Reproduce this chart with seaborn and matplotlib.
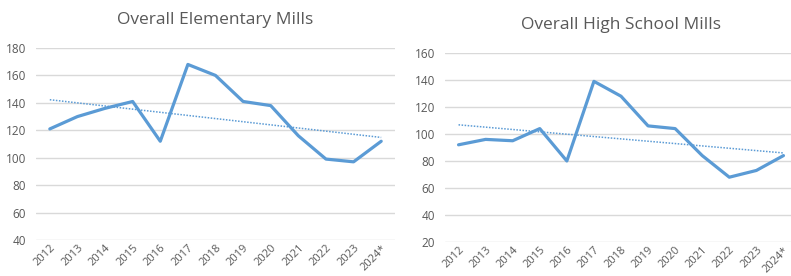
import numpy as np
import pandas as pd
import matplotlib
matplotlib.use('Agg')
import matplotlib.pyplot as plt
import seaborn as sns

# data
years = ['2012', '2013', '2014', '2015', '2016', '2017', '2018',
         '2019', '2020', '2021', '2022', '2023', '2024*']
elementary = [121, 130, 136, 141, 112, 168, 160, 141, 138, 116, 99, 97, 112]
high_school = [92, 96, 95, 104, 80, 139, 128, 106, 104, 84, 68, 73, 84]

sns.set_style('white')
plt.rcParams['font.family'] = ['Open Sans', 'DejaVu Sans']

line_color = '#5B9BD5'
text_color = '#595959'
grid_color = '#D9D9D9'

fig = plt.figure(figsize=(7.91, 2.76), dpi=100)
W, H = 791, 276


def px_axes(x0, y0, x1, y1):
    # axes rect from pixel box (top-left origin)
    return fig.add_axes([x0 / W, 1 - y1 / H, (x1 - x0) / W, (y1 - y0) / H])


def draw(ax, values, title, ylim, yticks):
    df = pd.DataFrame({'pos': np.arange(len(years)), 'value': values})
    # dotted linear trend line
    sns.regplot(data=df, x='pos', y='value', ax=ax, scatter=False, ci=None,
                truncate=True, color=line_color,
                line_kws={'linestyle': (0, (1, 1)), 'linewidth': 1.1})
    sns.lineplot(data=df, x='pos', y='value', ax=ax, color=line_color,
                 linewidth=2.3, sort=False)
    ax.set_xlim(-0.5, len(years) - 0.5)
    ax.set_ylim(*ylim)
    ax.set_yticks(yticks)
    ax.set_xticks(np.arange(len(years)))
    ax.set_xticklabels(years, rotation=45, ha='right', rotation_mode='anchor')
    ax.tick_params(axis='both', colors=text_color, labelsize=8.5, length=0)
    ax.tick_params(axis='x', pad=2, labelsize=8)
    ax.tick_params(axis='y', pad=7)
    ax.grid(axis='y', color=grid_color, linewidth=1)
    ax.set_axisbelow(True)
    for s in ax.spines.values():
        s.set_visible(False)
    ax.set_xlabel('')
    ax.set_ylabel('')
    ax.set_title(title, color=text_color, fontsize=12.5, pad=17)


ax1 = px_axes(36, 48, 395, 240)
draw(ax1, elementary, 'Overall Elementary Mills', (40, 180), range(40, 181, 20))

ax2 = px_axes(445, 53, 797, 242)
draw(ax2, high_school, 'Overall High School Mills', (20, 160), range(20, 161, 20))

fig.savefig('out.png', dpi=100)
